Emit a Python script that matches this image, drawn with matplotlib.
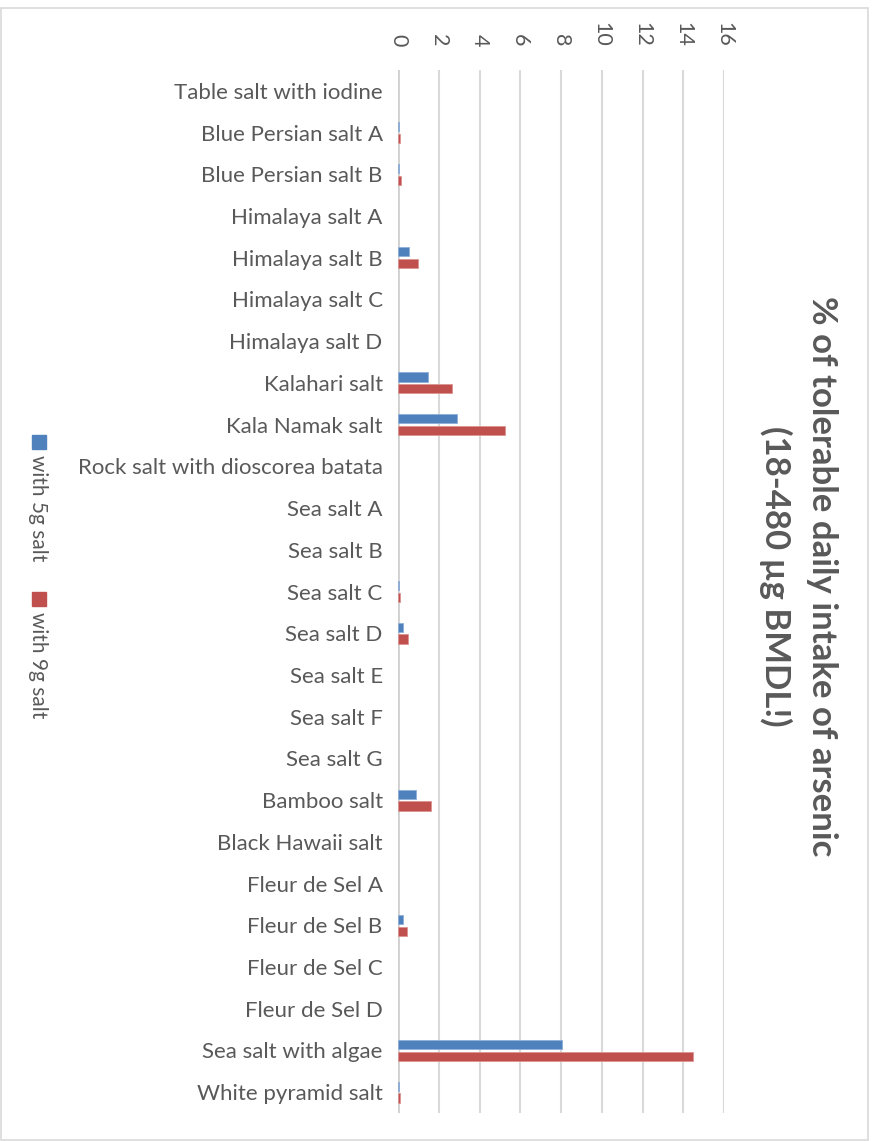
import numpy as np
import matplotlib.pyplot as plt
from matplotlib.patches import Rectangle

plt.rcParams['font.family'] = ['Lato', 'DejaVu Sans']

salts = ["Table salt with iodine", "Blue Persian salt A", "Blue Persian salt B",
         "Himalaya salt A", "Himalaya salt B", "Himalaya salt C", "Himalaya salt D",
         "Kalahari salt", "Kala Namak salt", "Rock salt with dioscorea batata",
         "Sea salt A", "Sea salt B", "Sea salt C", "Sea salt D", "Sea salt E",
         "Sea salt F", "Sea salt G", "Bamboo salt", "Black Hawaii salt",
         "Fleur de Sel A", "Fleur de Sel B", "Fleur de Sel C", "Fleur de Sel D",
         "Sea salt with algae", "White pyramid salt"]
# % of tolerable daily intake
with_5g = [0, 0.05, 0.07, 0, 0.55, 0, 0, 1.46, 2.92, 0, 0, 0, 0.05, 0.26, 0, 0, 0,
           0.86, 0, 0, 0.23, 0, 0, 8.03, 0.05]
with_9g = [0, 0.1, 0.13, 0, 1.0, 0, 0, 2.65, 5.27, 0, 0, 0, 0.1, 0.5, 0, 0, 0,
           1.6, 0, 0, 0.44, 0, 0, 14.5, 0.1]
xticks = [0, 2, 4, 6, 8, 10, 12, 14, 16]

blue = '#4F81BD'
red = '#C0504D'
grey_txt = '#595959'

W, H = 873, 1141
fig = plt.figure(figsize=(W / 100, H / 100), dpi=100)

# chart border
fig.patches.append(Rectangle((1 / W, 1 - 1140 / H), 867 / W, 1132 / H,
                             transform=fig.transFigure, fill=False,
                             edgecolor='#D9D9D9', linewidth=1.2))

ax = fig.add_axes([398 / W, 1 - 1113 / H, 326 / W, (1113 - 70) / H])
y = np.arange(len(salts))
lw5 = [0.6 if v > 0 else 0 for v in with_5g]
lw9 = [0.6 if v > 0 else 0 for v in with_9g]
ax.barh(y - 0.14, with_5g, height=0.22, color=blue, edgecolor='#8FAFD8', linewidth=lw5, zorder=3)
ax.barh(y + 0.14, with_9g, height=0.22, color=red, edgecolor='#DC9593', linewidth=lw9, zorder=3)
ax.set_ylim(len(salts) - 0.5, -0.5)
ax.set_xlim(0, 16)

ax.set_yticks(y)
ax.set_yticklabels(salts, fontsize=16, color=grey_txt)
ax.set_xticks(xticks)
ax.set_xticklabels([str(t) for t in xticks], rotation=-90, fontsize=15.5, color=grey_txt)
ax.xaxis.tick_top()
ax.tick_params(axis='both', length=0)
ax.tick_params(axis='y', pad=11)
ax.tick_params(axis='x', pad=17)
for s in ax.spines.values():
    s.set_visible(False)
ax.grid(axis='x', color='#D9D9D9', linewidth=1.5, zorder=0)
ax.axvline(0, color='#D0D0D0', linewidth=2, zorder=2)

# title, rotated like the rest of the chart
fig.text(822 / W, 1 - 576 / H, '% of tolerable daily intake of arsenic',
         rotation=-90, ha='center', va='center', fontsize=25, fontweight='bold', color=grey_txt)
fig.text(776 / W, 1 - 576 / H, '(18-480 µg BMDL!)',
         rotation=-90, ha='center', va='center', fontsize=25, fontweight='bold', color=grey_txt)

# legend
for (y0, y1), col, lab in [((435, 449), blue, 'with 5g salt'), ((592, 606), red, 'with 9g salt')]:
    fig.patches.append(Rectangle((32 / W, 1 - y1 / H), 14 / W, (y1 - y0) / H,
                                 transform=fig.transFigure, color=col))
    fig.text(38 / W, 1 - (y1 + 6) / H, lab, rotation=-90, ha='center', va='top',
             fontsize=15, color=grey_txt)

fig.savefig('out.png', dpi=100)
